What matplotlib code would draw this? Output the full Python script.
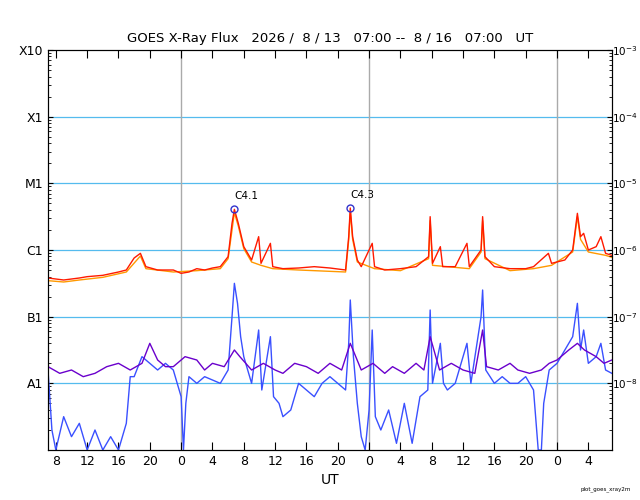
import numpy as np
import matplotlib.pyplot as plt
from matplotlib.ticker import FixedLocator, LogLocator, NullFormatter

# hours since 2026-08-13 07:00 UT, values are log10(W/m^2)
red_t = [0, 2, 4, 5, 7, 9, 10, 11, 11.8, 12.5, 14, 16, 17, 18, 19, 20, 21, 22, 23, 23.5, 23.8, 24.3, 25, 26,
         26.9, 27.2, 28.4, 28.7, 30, 32, 34, 36, 38, 38.4, 38.6, 38.9, 39.5, 40, 41.4, 41.7, 43, 45, 47, 48.6,
         48.8, 49.1, 50.1, 50.4, 52, 53.5, 53.8, 55.3, 55.5, 55.8, 57, 59, 61, 62, 63.9, 64.3, 66, 67, 67.6,
         68, 68.4, 69, 70, 70.6, 71.2, 72]
red_v = [-6.42, -6.45, -6.42, -6.40, -6.38, -6.33, -6.30, -6.12, -6.05, -6.25, -6.30, -6.30, -6.35, -6.33,
         -6.28, -6.30, -6.27, -6.25, -6.10, -5.60, -5.39, -5.60, -5.95, -6.15, -5.80, -6.20, -5.90, -6.25,
         -6.28, -6.27, -6.25, -6.27, -6.30, -5.80, -5.37, -5.80, -6.15, -6.25, -5.90, -6.25, -6.30, -6.28,
         -6.25, -6.10, -5.50, -6.20, -5.95, -6.25, -6.25, -5.90, -6.25, -6.00, -5.50, -6.10, -6.25, -6.28,
         -6.28, -6.25, -6.05, -6.20, -6.15, -6.00, -5.45, -5.80, -5.75, -6.00, -5.95, -5.80, -6.05, -6.08]

orange_t = [0, 2, 4, 7, 10, 11.8, 12.5, 16, 19, 22, 23, 23.8, 24.3, 25, 26, 27.2, 28.7, 32, 38, 38.4, 38.6,
            38.9, 39.5, 41.7, 45, 48.6, 48.8, 49.1, 53.8, 55.3, 55.5, 55.8, 59, 62, 64.3, 67, 67.6, 68, 69,
            71.2, 72]
orange_v = [-6.46, -6.48, -6.45, -6.41, -6.33, -6.09, -6.28, -6.33, -6.31, -6.28, -6.13, -5.44, -5.64,
            -5.98, -6.18, -6.23, -6.28, -6.30, -6.33, -5.85, -5.42, -5.84, -6.18, -6.28, -6.31, -6.13,
            -5.56, -6.23, -6.28, -6.03, -5.56, -6.13, -6.31, -6.28, -6.23, -6.03, -5.50, -5.84, -6.03,
            -6.08, -6.11]

blue_t = [0, 0.5, 1, 2, 3, 4, 5, 6, 7, 8, 9, 10, 10.5, 11, 12, 13, 14, 15, 16, 17, 17.3, 17.6, 18, 19, 20,
          21, 22, 23, 23.5, 23.8, 24.2, 24.6, 25, 26, 26.9, 27.3, 28.4, 28.8, 29.5, 30, 31, 32, 33, 34, 35,
          36, 37, 38, 38.4, 38.6, 39, 39.5, 40, 40.5, 41, 41.4, 41.8, 42.5, 43.5, 44.5, 45.5, 46.5, 47.5,
          48.5, 48.8, 49.1, 50.1, 50.5, 51, 52, 53.5, 54, 55.3, 55.5, 55.9, 57, 58, 59, 60, 61, 62, 62.6,
          63, 63.3, 64, 65, 66, 67, 67.6, 68, 68.4, 69, 70, 70.6, 71.2, 72]
blue_v = [-7.8, -8.7, -9.0, -8.5, -8.8, -8.6, -9.0, -8.7, -9.0, -8.8, -9.0, -8.6, -7.9, -7.9, -7.6, -7.7,
          -7.8, -7.7, -7.8, -8.2, -9.0, -8.3, -7.9, -8.0, -7.9, -7.95, -8.0, -7.8, -7.0, -6.5, -6.8, -7.3,
          -7.6, -8.0, -7.2, -8.1, -7.3, -8.2, -8.3, -8.5, -8.4, -8.0, -8.1, -8.2, -8.0, -7.9, -8.0, -8.1,
          -7.4, -6.75, -7.6, -8.3, -8.8, -9.0, -8.4, -7.2, -8.5, -8.7, -8.4, -8.9, -8.3, -8.9, -8.2, -8.1,
          -6.9, -8.0, -7.4, -8.0, -8.1, -8.0, -7.4, -8.0, -7.0, -6.6, -7.8, -8.0, -7.9, -8.0, -8.0, -7.9,
          -8.1, -9.0, -9.0, -8.3, -7.8, -7.7, -7.5, -7.3, -6.8, -7.5, -7.2, -7.7, -7.6, -7.4, -7.8, -7.85]

purple_t = [0, 1.5, 3, 4.5, 6, 7.5, 9, 10.5, 12, 13, 14, 15, 16, 17.5, 19, 20, 21, 22.5, 23.8, 24.5, 26,
            27.5, 29, 30, 31.5, 33, 34.5, 36, 37.5, 38.6, 40, 41.5, 43, 44, 45.5, 47, 48, 48.8, 50, 51.5,
            53, 54.5, 55.5, 56, 57.5, 59, 60, 61.5, 63, 64, 65, 66.5, 67.6, 68.5, 70, 71, 72]
purple_v = [-7.75, -7.85, -7.8, -7.9, -7.85, -7.75, -7.7, -7.8, -7.7, -7.4, -7.65, -7.75, -7.75, -7.6,
            -7.65, -7.8, -7.7, -7.75, -7.5, -7.6, -7.8, -7.7, -7.8, -7.85, -7.7, -7.75, -7.85, -7.7, -7.8,
            -7.4, -7.8, -7.7, -7.85, -7.75, -7.85, -7.7, -7.8, -7.3, -7.8, -7.7, -7.8, -7.85, -7.2, -7.75,
            -7.8, -7.7, -7.8, -7.85, -7.8, -7.7, -7.65, -7.5, -7.4, -7.5, -7.6, -7.7, -7.65]

flare_t = [23.8, 38.6]
flare_v = [-5.39, -5.37]
flare_lbl = ['C4.1', 'C4.3']

fig = plt.figure(figsize=(6.4, 5), dpi=100)
ax = fig.add_axes([0.075, 0.1, 0.881, 0.8])

for y in [1e-4, 1e-5, 1e-6, 1e-7, 1e-8]:
    ax.axhline(y, color='#55bbee', lw=0.9, zorder=1)
for d in [17, 41, 65]:
    ax.axvline(d, color='#aaaaaa', lw=1, zorder=1)

ax.plot(blue_t, 10 ** np.array(blue_v), color='#3a50ff', lw=1, zorder=2)
ax.plot(purple_t, 10 ** np.array(purple_v), color='#6a00cc', lw=1, zorder=3)
ax.plot(orange_t, 10 ** np.array(orange_v), color='#ff9900', lw=1, zorder=4)
ax.plot(red_t, 10 ** np.array(red_v), color='#ff1a00', lw=1, zorder=5)

for t, v, s in zip(flare_t, flare_v, flare_lbl):
    ax.plot(t, 10 ** v, 'o', mfc='none', mec='#3333cc', ms=5, zorder=6)
    ax.text(t, 10 ** (v + 0.12), s, fontsize=7.5, ha='left', va='bottom')

ax.set_yscale('log')
ax.set_ylim(1e-9, 1e-3)
ax.set_xlim(0, 72)
hrs = np.arange(1, 72, 4)
ax.set_xticks(hrs)
ax.set_xticklabels([str((h + 7) % 24) for h in hrs])
ax.tick_params(axis='x', direction='in', length=6, top=True, labelsize=9)
ax.set_xlabel('UT', fontsize=10)

ax.yaxis.set_major_locator(FixedLocator([1e-3, 1e-4, 1e-5, 1e-6, 1e-7, 1e-8]))
ax.set_yticklabels(['X10', 'X1', 'M1', 'C1', 'B1', 'A1'])
ax.yaxis.set_minor_locator(LogLocator(base=10, subs=np.arange(2, 10)))
ax.yaxis.set_minor_formatter(NullFormatter())
ax.tick_params(axis='y', which='both', direction='in', labelsize=9)

ax2 = ax.twinx()
ax2.set_yscale('log')
ax2.set_ylim(1e-9, 1e-3)
ax2.yaxis.set_major_locator(FixedLocator([1e-3, 1e-4, 1e-5, 1e-6, 1e-7, 1e-8]))
ax2.yaxis.set_minor_locator(LogLocator(base=10, subs=np.arange(2, 10)))
ax2.yaxis.set_minor_formatter(NullFormatter())
ax2.tick_params(axis='y', which='both', direction='in', labelsize=7.5, pad=0)

ax.set_title('GOES X-Ray Flux   2026 /  8 / 13   07:00 --  8 / 16   07:00   UT', fontsize=9.5)
fig.text(0.985, 0.02, 'plot_goes_xray2m', fontsize=4, ha='right')

fig.savefig('out.png')
